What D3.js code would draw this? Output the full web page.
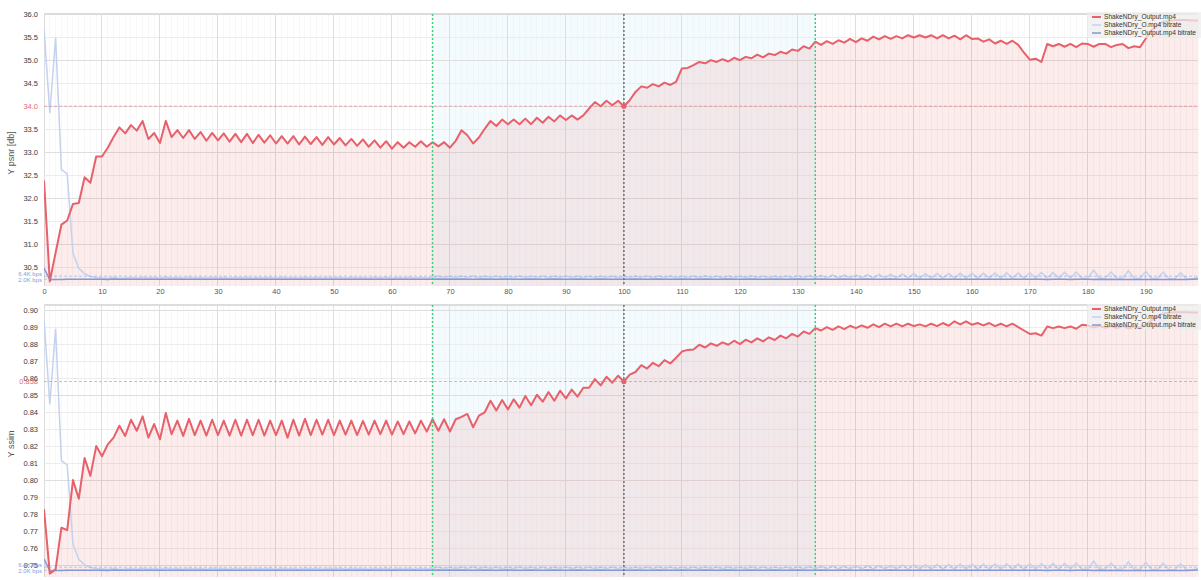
<!DOCTYPE html>
<html>
<head>
<meta charset="utf-8">
<script src="https://cdn.jsdelivr.net/npm/d3@7"></script>
<style>
  body { margin: 0; background: #fff; }
  svg { display: block; font-family: "Liberation Sans", Arial, sans-serif; }
</style>
</head>
<body>
<svg id="chart" width="1201" height="580"></svg>
<script>
// Per-frame quality metrics for ShakeNDry_Output.mp4 (frames 0..199)
const psnr = [
  32.39,30.20,30.82,31.43,31.52,31.88,31.90,32.46,32.34,32.91,
  32.91,33.10,33.33,33.54,33.41,33.59,33.47,33.68,33.29,33.42,
  33.20,33.68,33.33,33.48,33.31,33.48,33.29,33.44,33.25,33.42,
  33.26,33.41,33.23,33.40,33.22,33.40,33.20,33.38,33.21,33.37,
  33.19,33.35,33.19,33.35,33.17,33.34,33.18,33.33,33.16,33.33,
  33.17,33.31,33.15,33.29,33.14,33.28,33.12,33.26,33.10,33.24,
  33.08,33.22,33.10,33.22,33.12,33.24,33.12,33.22,33.13,33.22,
  33.10,33.25,33.48,33.37,33.19,33.32,33.51,33.68,33.57,33.71,
  33.61,33.71,33.61,33.73,33.61,33.75,33.64,33.77,33.67,33.80,
  33.70,33.80,33.71,33.80,33.95,34.09,34.00,34.12,34.02,34.12,
  34.00,34.13,34.31,34.43,34.40,34.48,34.43,34.51,34.46,34.53,
  34.82,34.83,34.89,34.96,34.93,35.00,34.96,35.02,34.97,35.05,
  35.00,35.07,35.04,35.12,35.06,35.14,35.11,35.18,35.14,35.23,
  35.20,35.30,35.25,35.40,35.33,35.41,35.35,35.43,35.38,35.46,
  35.39,35.47,35.42,35.51,35.45,35.52,35.46,35.52,35.47,35.54,
  35.49,35.54,35.49,35.54,35.47,35.54,35.47,35.53,35.45,35.54,
  35.46,35.47,35.40,35.45,35.36,35.42,35.35,35.42,35.33,35.16,
  35.01,35.03,34.96,35.35,35.30,35.35,35.29,35.35,35.28,35.36,
  35.35,35.29,35.35,35.35,35.28,35.33,35.35,35.26,35.30,35.28,
  35.47,35.65,35.76,35.83,35.85,35.87,35.87,35.87,35.86,35.86
];

const ssim = [
  0.783,0.745,0.7475,0.772,0.7706,0.800,0.789,0.813,0.8025,0.820,
  0.814,0.821,0.825,0.832,0.826,0.8355,0.829,0.8375,0.825,0.833,
  0.824,0.8395,0.827,0.835,0.826,0.836,0.8265,0.835,0.8262,0.8355,
  0.8265,0.835,0.8262,0.8355,0.8262,0.8355,0.8265,0.8355,0.8262,0.835,
  0.8265,0.835,0.825,0.8355,0.8262,0.836,0.8265,0.8355,0.8268,0.8355,
  0.8265,0.835,0.8268,0.835,0.8265,0.8348,0.8268,0.835,0.827,0.835,
  0.8268,0.8345,0.827,0.8345,0.8275,0.835,0.8285,0.8358,0.829,0.8358,
  0.8286,0.8358,0.8372,0.8389,0.8311,0.8379,0.8399,0.8467,0.8409,0.8471,
  0.8416,0.8475,0.8426,0.8495,0.844,0.8502,0.8461,0.8518,0.8467,0.8526,
  0.8481,0.8532,0.8491,0.8543,0.8543,0.8594,0.8557,0.8608,0.8573,0.8614,
  0.858,0.862,0.8636,0.8676,0.8656,0.869,0.867,0.8706,0.8686,0.872,
  0.8756,0.8766,0.8768,0.8796,0.878,0.8804,0.879,0.881,0.8796,0.882,
  0.880,0.8826,0.881,0.8834,0.8816,0.884,0.8824,0.885,0.8834,0.886,
  0.8844,0.8874,0.886,0.8894,0.888,0.890,0.8884,0.8904,0.8888,0.8908,
  0.8894,0.891,0.8896,0.8916,0.890,0.892,0.8904,0.892,0.8904,0.892,
  0.8906,0.8916,0.8904,0.892,0.8906,0.8924,0.8908,0.8934,0.8916,0.8934,
  0.8914,0.8924,0.891,0.8924,0.8906,0.892,0.8904,0.892,0.890,0.888,
  0.886,0.8864,0.885,0.8904,0.8894,0.8904,0.8894,0.8904,0.889,0.8914,
  0.891,0.8898,0.8908,0.8896,0.8906,0.8894,0.8908,0.8892,0.8904,0.8898,
  0.8915,0.894,0.8965,0.898,0.8985,0.8988,0.8988,0.8988,0.8986,0.8986
];

// Per-frame bitrate in kbps
const bitrateSource = [
  371,246,357,163,157,40,18,10,6,4.5,
  3.8,3.0,5.0,3.2,3.6,4.6,3.5,4.8,3.6,4.5,
  3.5,5.2,3.6,4.6,3.5,4.7,3.6,4.6,3.5,4.8,
  3.6,4.6,3.5,4.7,3.6,4.8,3.5,4.6,3.6,4.7,
  3.5,4.8,3.6,4.6,3.5,4.7,3.6,4.8,3.5,4.6,
  3.6,4.8,3.5,4.7,3.6,4.6,3.5,4.8,3.6,4.7,
  3.5,4.6,3.6,4.8,3.5,4.7,3.6,4.8,6.5,4.0,
  6.8,4.0,6.6,4.1,6.9,4.0,6.5,4.2,6.8,4.0,
  6.6,4.1,6.9,4.0,6.5,4.2,6.8,4.0,6.6,4.1,
  6.9,4.0,6.5,4.2,6.8,4.0,6.6,4.1,6.7,4.0,
  6.4,4.0,6.8,4.1,6.6,4.0,6.9,4.2,6.5,4.0,
  6.8,4.1,6.6,4.0,6.9,4.2,6.5,4.0,6.8,4.1,
  6.6,4.0,6.9,4.2,6.5,4.0,6.8,4.1,6.6,4.0,
  7.2,4.0,7.5,3.8,7.8,3.8,8.0,3.7,8.2,3.7,
  8.5,3.6,8.8,3.6,9.0,3.5,9.4,3.5,9.8,3.5,
  10.0,3.5,10.2,3.5,10.4,3.5,10.6,3.5,10.8,3.5,
  11.0,3.5,10.8,3.5,11.2,3.5,11.4,3.5,11.2,3.5,
  11.6,3.5,11.8,3.5,12.0,3.5,12.2,3.5,12.5,3.5,
  3.8,15.5,3.5,3.5,12.5,3.5,3.5,14.5,3.0,3.0,
  13.5,3.0,3.0,12.5,2.5,2.5,11.5,2.5,2.5,4.5
];

const bitrateOutput = [
  18.5,1.2,1.5,1.7,1.8,1.9,2.0,2.0,2.1,2.0,
  2.0,1.6,2.4,1.9,2.0,2.1,1.9,2.0,2.1,1.9,
  2.0,2.1,1.9,2.0,2.1,1.9,2.0,2.1,1.9,2.0,
  2.1,1.9,2.0,2.1,1.9,2.0,2.1,1.9,2.0,2.1,
  1.9,2.0,2.1,1.9,2.0,2.1,1.9,2.0,2.1,1.9,
  2.0,2.1,1.9,2.0,2.1,1.9,2.0,2.1,1.9,2.0,
  2.1,1.9,2.0,2.1,1.9,2.0,2.1,1.9,2.2,1.8,
  2.2,1.8,2.2,1.8,2.1,1.9,2.2,1.8,2.1,1.9,
  2.2,1.8,2.1,1.9,2.2,1.8,2.1,1.9,2.2,1.8,
  2.1,1.9,2.2,1.8,2.1,1.9,2.2,1.8,2.1,1.9,
  2.0,1.9,2.2,1.8,2.1,1.9,2.2,1.8,2.1,1.9,
  2.2,1.8,2.1,1.9,2.2,1.8,2.1,1.9,2.2,1.8,
  2.1,1.9,2.2,1.8,2.1,1.9,2.2,1.8,2.1,1.9,
  2.2,1.8,2.1,1.9,2.2,1.8,2.1,1.9,2.2,1.8,
  2.1,1.9,2.2,1.8,2.1,1.9,2.2,1.8,2.1,1.9,
  2.0,1.9,2.0,1.8,2.0,1.9,2.0,1.8,2.0,1.9,
  2.0,1.8,2.0,1.9,2.0,1.8,2.0,1.9,2.0,1.8,
  1.9,1.8,1.9,1.7,1.9,1.8,1.9,1.7,1.9,1.8,
  1.8,1.7,1.8,1.6,1.8,1.7,1.6,1.5,1.6,1.5,
  1.5,1.4,1.5,1.4,1.5,1.4,1.5,1.6,1.8,2.2
];

const seriesNames = ["ShakeNDry_Output.mp4", "ShakeNDry_O.mp4 bitrate", "ShakeNDry_Output.mp4 bitrate"];
const selectedFrame = 100;
const sceneMarks = [67, 133];
const frameTicks = [0,10,20,30,40,50,60,70,80,90,100,110,120,130,140,150,160,170,180,190];
const psnrTicks = [30.5,31.0,31.5,32.0,32.5,33.0,33.5,34.0,34.5,35.0,35.5,36.0];
const ssimTicks = [0.75,0.76,0.77,0.78,0.79,0.80,0.81,0.82,0.83,0.84,0.85,0.86,0.87,0.88,0.89,0.90];

const frames = d3.range(psnr.length);
const svg = d3.select("#chart");

const COL = {
  metric: "#e8606a",
  metricFill: "rgba(228,70,70,0.10)",
  src: "#c3d2ef",
  out: "#8299d6",
  band: "rgba(200,238,250,0.22)",
  grid: "#dedede",
  gridMinor: "#f2f2f2",
  cut: "#3fcf7f",
  sel: "#6f7180"
};

const x = d3.scaleLinear().domain([0, psnr.length - 1]).range([44, 1198]);

function panel(opts) {
  const { top, bottom, domain, values, ticks, fmt, selFmt, majorStep, minorStep, title, legendY, showFrameLabels } = opts;
  const g = svg.append("g");
  const y = d3.scaleLinear().domain(domain).range([bottom, top]);
  const yb = d3.scaleLinear().domain([-8, 392]).range([bottom, top]);
  const left = x.range()[0], right = x.range()[1];

  const clipId = "clip" + top;
  svg.append("clipPath").attr("id", clipId)
    .append("rect").attr("x", left).attr("y", top).attr("width", right - left).attr("height", bottom - top);

  // scene band between the two cut markers
  g.append("rect")
    .attr("x", x(sceneMarks[0])).attr("y", top)
    .attr("width", x(sceneMarks[1]) - x(sceneMarks[0])).attr("height", bottom - top)
    .attr("fill", COL.band);

  // grid
  const grid = g.append("g").attr("shape-rendering", "crispEdges");
  grid.selectAll(".vmin").data(frames).join("line")
    .attr("x1", d => x(d)).attr("x2", d => x(d)).attr("y1", top).attr("y2", bottom)
    .attr("stroke", COL.gridMinor).attr("stroke-width", 0.6);
  const minorVals = d3.range(Math.ceil(domain[0] / minorStep - 1e-9), Math.floor(domain[1] / minorStep + 1e-9) + 1).map(i => +(i * minorStep).toFixed(4));
  grid.selectAll(".hmin").data(minorVals).join("line")
    .attr("x1", left).attr("x2", right).attr("y1", d => y(d)).attr("y2", d => y(d))
    .attr("stroke", "#ececec").attr("stroke-width", 1);
  grid.selectAll(".vmaj").data(frameTicks).join("line")
    .attr("x1", d => x(d)).attr("x2", d => x(d)).attr("y1", top).attr("y2", bottom)
    .attr("stroke", COL.grid).attr("stroke-width", 1);
  const majorVals = minorVals.filter(v => Math.abs(v / majorStep - Math.round(v / majorStep)) < 1e-6);
  grid.selectAll(".hmaj").data(majorVals).join("line")
    .attr("x1", left).attr("x2", right).attr("y1", d => y(d)).attr("y2", d => y(d))
    .attr("stroke", COL.grid).attr("stroke-width", 1);
  // top frame edge
  grid.append("line").attr("x1", left).attr("x2", right).attr("y1", top).attr("y2", top)
    .attr("stroke", "#dcdcdc").attr("stroke-width", 2);

  const plot = g.append("g").attr("clip-path", `url(#${clipId})`);

  // metric area
  plot.append("path").datum(frames)
    .attr("d", d3.area().x(d => x(d)).y0(bottom).y1(d => y(values[d])))
    .attr("fill", COL.metricFill);

  // bitrate lines
  plot.append("path").datum(frames)
    .attr("d", d3.line().x(d => x(d)).y(d => yb(bitrateSource[d])))
    .attr("fill", "none").attr("stroke", COL.src).attr("stroke-width", 1.5);
  plot.append("path").datum(frames)
    .attr("d", d3.line().x(d => x(d)).y(d => yb(bitrateOutput[d])))
    .attr("fill", "none").attr("stroke", COL.out).attr("stroke-width", 1.5);

  // metric line
  plot.append("path").datum(frames)
    .attr("d", d3.line().x(d => x(d)).y(d => y(values[d])))
    .attr("fill", "none").attr("stroke", COL.metric).attr("stroke-width", 2)
    .attr("stroke-linejoin", "round");

  // selected-frame guides
  const selVal = values[selectedFrame];
  plot.append("line").attr("x1", left).attr("x2", right)
    .attr("y1", y(selVal)).attr("y2", y(selVal))
    .attr("stroke", "rgba(235,110,110,0.55)").attr("stroke-dasharray", "3,2").attr("stroke-width", 1);
  [bitrateSource[selectedFrame], bitrateOutput[selectedFrame]].forEach(b => {
    plot.append("line").attr("x1", left).attr("x2", right)
      .attr("y1", yb(b)).attr("y2", yb(b))
      .attr("stroke", "rgba(130,160,220,0.5)").attr("stroke-dasharray", "3,2").attr("stroke-width", 1);
  });

  // vertical markers
  sceneMarks.forEach(f => {
    g.append("line").attr("x1", x(f)).attr("x2", x(f)).attr("y1", top).attr("y2", bottom)
      .attr("stroke", COL.cut).attr("stroke-width", 1.5).attr("stroke-dasharray", "2,2");
  });
  g.append("line").attr("x1", x(selectedFrame)).attr("x2", x(selectedFrame)).attr("y1", top).attr("y2", bottom)
    .attr("stroke", COL.sel).attr("stroke-width", 1.5).attr("stroke-dasharray", "2,2");

  g.append("circle").attr("cx", x(selectedFrame)).attr("cy", y(selVal)).attr("r", 2.6)
    .attr("fill", COL.metric);

  // axes
  const selText = d3.format(selFmt)(selVal);
  const ya = g.append("g").attr("transform", `translate(${left},0)`)
    .call(d3.axisLeft(y).tickValues(ticks).tickFormat(d3.format(fmt)).tickSize(0).tickPadding(6));
  ya.select(".domain").remove();
  ya.selectAll("text").attr("fill", "#3a3a3a").style("font-size", "7.5px");
  // the selected value label takes the place of an identical tick label
  ya.selectAll(".tick").filter(d => d3.format(fmt)(d) === selText).remove();

  if (showFrameLabels) {
    const xa = g.append("g").attr("transform", `translate(0,${bottom})`)
      .call(d3.axisBottom(x).tickValues(frameTicks).tickFormat(d3.format("d")).tickSize(0).tickPadding(3));
    xa.select(".domain").remove();
    xa.selectAll("text").attr("fill", "#555").style("font-size", "7.5px");
  }

  // value labels for the selected frame
  g.append("text").attr("x", left - 6).attr("y", y(selVal)).attr("dy", "0.32em")
    .attr("text-anchor", "end").attr("fill", "#e46a70").style("font-size", "7.5px")
    .text(selText);
  const kfmt = v => d3.format(".1f")(v) + "K bps";
  const bSel = [bitrateSource[selectedFrame], bitrateOutput[selectedFrame]];
  g.append("text").attr("x", left - 2).attr("y", yb(bSel[0]) - 0.3)
    .attr("text-anchor", "end").attr("fill", "#7e9ee0").style("font-size", "6px")
    .text(kfmt(bSel[0]));
  g.append("text").attr("x", left - 2).attr("y", yb(bSel[1]) + 2.6)
    .attr("text-anchor", "end").attr("fill", "#7e9ee0").style("font-size", "6px")
    .text(kfmt(bSel[1]));

  // axis title
  g.append("text")
    .attr("transform", `translate(14,${(top + bottom) / 2 + 3}) rotate(-90)`)
    .attr("text-anchor", "middle").attr("fill", "#555").style("font-size", "9px")
    .text(title);

  // legend
  const lg = g.append("g").attr("transform", `translate(1087,${legendY})`);
  lg.append("rect").attr("x", 0).attr("y", 0).attr("width", 114).attr("height", 26)
    .attr("fill", "rgba(238,238,238,0.75)");
  const legendColors = [COL.metric, COL.src, COL.out];
  seriesNames.forEach((name, i) => {
    const ly = 5 + i * 8;
    lg.append("line").attr("x1", 5).attr("x2", 14).attr("y1", ly).attr("y2", ly)
      .attr("stroke", legendColors[i]).attr("stroke-width", i === 0 ? 2 : 1.5);
    lg.append("text").attr("x", 17).attr("y", ly).attr("dy", "0.33em")
      .attr("fill", "#333").style("font-size", "6.6px").text(name);
  });
}

panel({
  top: 14, bottom: 286, domain: [30.1, 36.0], values: psnr, ticks: psnrTicks,
  fmt: ".1f", selFmt: ".1f", majorStep: 1, minorStep: 0.5, title: "Y psnr [db]",
  legendY: 12, showFrameLabels: true
});
panel({
  top: 305, bottom: 577, domain: [0.743, 0.903], values: ssim, ticks: ssimTicks,
  fmt: ".2f", selFmt: ".3f", majorStep: 0.05, minorStep: 0.01, title: "Y ssim",
  legendY: 304, showFrameLabels: false
});
</script>
</body>
</html>
